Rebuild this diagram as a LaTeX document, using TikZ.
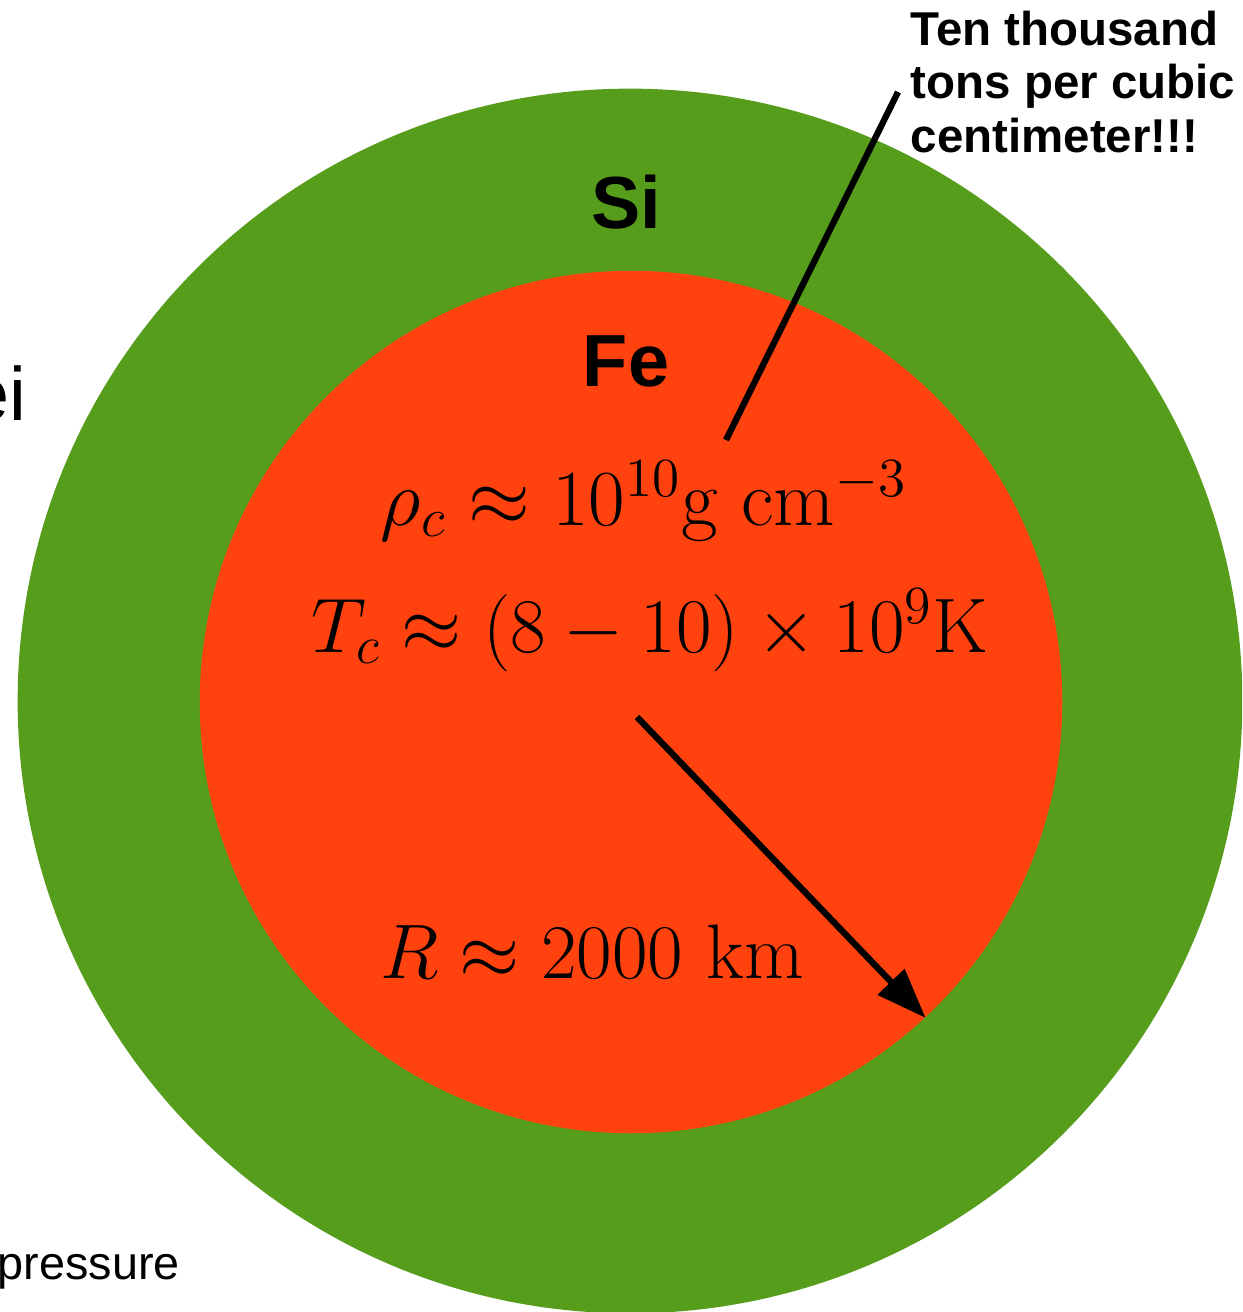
\documentclass[tikz,border=0pt]{standalone}
\usepackage{fontspec}
\setsansfont{Liberation Sans}
\usepackage{amsmath}
\usepackage{graphicx}
\usepackage{tikz}
\usetikzlibrary{arrows.meta, positioning, calc}
\definecolor{sigreen}{RGB}{87,157,28}
\definecolor{fered}{RGB}{255,66,14}
\newcommand{\bigeq}[2][1.06]{\scalebox{#1}{#2}}
\tikzstyle{shell}  = [circle, fill=sigreen, inner sep=0pt]
\tikzstyle{core}   = [circle, fill=fered, inner sep=0pt]
\tikzstyle{elem}   = [font=\sffamily\bfseries\fontsize{21}{25}\selectfont, inner sep=0pt]
\tikzstyle{eqn}    = [font=\fontsize{20.74}{25}\selectfont, inner sep=0pt, anchor=base]
\tikzstyle{note}   = [font=\sffamily\bfseries\fontsize{13.5}{15.2}\selectfont, align=left, inner sep=0pt]
\tikzstyle{cut}    = [font=\sffamily, inner sep=0pt, anchor=base]
\tikzstyle{arr}    = [-{Triangle[length=0.5cm, width=0.36cm]}, line width=1.8pt]
\tikzstyle{ptr}    = [line width=1.8pt]

\begin{document}
\begin{tikzpicture}[x=0.01cm, y=-0.01cm]
    \useasboundingbox (0,0) rectangle (1242,1312);
    \clip (0,0) rectangle (1242,1312);

    \node[shell, minimum size=12.24cm] (si) at (630,701) {};
    \node[core, minimum size=8.62cm] (fe) at (631,702) {};

    \node[elem] (silabel) at (626,202) {Si};
    \node[elem] (felabel) at (626,361) {Fe};

    \node[eqn] (rho) at (644,525) {\bigeq[1.09]{$\rho_c \approx 10^{10}\mathrm{g\ cm}^{-3}$}};
    \node[eqn] (temp) at (650,652) {\bigeq{$T_c \approx (8-10)\times 10^9\mathrm{K}$}};
    \node[eqn] (rad) at (592,978) {\bigeq{$R \approx 2000\ \mathrm{km}$}};

    \node[note, anchor=north west] (tons) at (910,10)
         {Ten thousand\\tons per cubic\\centimeter!!!};

    \node[cut, anchor=base east, font=\sffamily\fontsize{21.5}{25}\selectfont] (nuclei) at (27,420) {ei};
    \node[cut, anchor=base west, font=\sffamily\fontsize{13.3}{16}\selectfont] (press) at (-3,1279) {pressure};

    \coordinate (rstart) at (637,717);
    \coordinate (pstart) at (726,440);
    \coordinate (pend) at (898,92);

    \draw[arr] (rstart) -- (fe.-47.8);
    \draw[ptr] (pstart) -- (pend);
  \end{tikzpicture}
\end{document}
